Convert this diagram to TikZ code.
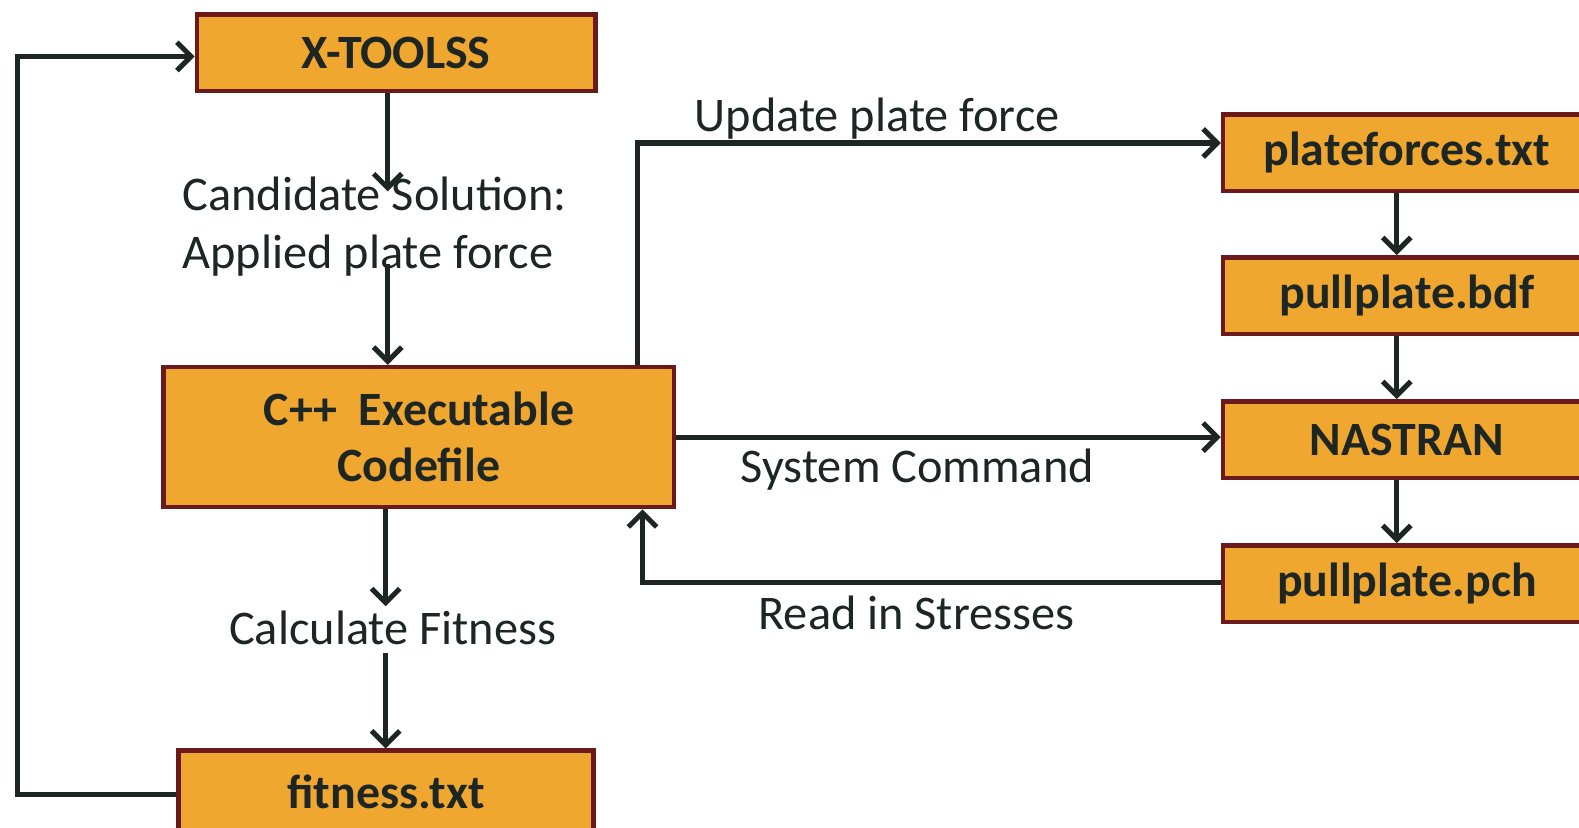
\documentclass[tikz,border=0pt]{standalone}
\usepackage{fontspec}
\setmainfont{Carlito}
\usetikzlibrary{arrows.meta}
\definecolor{boxfill}{HTML}{EFA72F}
\definecolor{boxline}{HTML}{6B1A1A}
\definecolor{ink}{HTML}{1E2624}
\begin{document}
\begin{tikzpicture}[x=1pt,y=-1pt,
  fbox/.style={draw=boxline,line width=4.5pt,fill=boxfill,text=ink,inner sep=0pt,
     font=\fontsize{47.5}{56}\selectfont\bfseries,align=center},
  lbl/.style={text=ink,inner sep=0pt,font=\fontsize{48}{57}\selectfont},
  arr/.style={draw=ink,line width=5pt,-{Straight Barb[length=14pt,width=28pt]}}]
\useasboundingbox[fill=white] (0,0) rectangle (1568,822);
% boxes
\node[fbox,minimum width=396pt,minimum height=76pt] (xt) at (393.5,52.5) {X-TOOLSS};
\node[fbox,minimum width=507pt,minimum height=139pt] (cpp) at (416,434) {C++\ \ Executable\\Codefile};
\node[fbox,minimum width=412pt,minimum height=81pt] (fit) at (383.5,786) {fitness.txt};
\node[fbox,minimum width=365pt,minimum height=76pt] (pf) at (1397,151.5) {plateforces.txt};
\node[fbox,minimum width=365pt,minimum height=76pt] (bdf) at (1397,293.5) {pullplate.bdf};
\node[fbox,minimum width=365pt,minimum height=76pt] (nas) at (1397,436.5) {NASTRAN};
\node[fbox,minimum width=365pt,minimum height=76pt] (pch) at (1397,579.5) {pullplate.pch};
% labels
\node[lbl,anchor=west,align=left] (cand) at (181,225) {Candidate Solution:\\Applied plate force};
\node[lbl] (calc) at (390,624) {Calculate Fitness};
\node[lbl] (upd) at (871,118) {Update plate force};
\node[lbl] (sys) at (911,466) {System Command};
\node[lbl] (rd) at (910,609) {Read in Stresses};
% helper coordinates
\coordinate (c1) at (385,190);
\coordinate (c2) at (385,262);
\coordinate (c3) at (383,602);
\coordinate (c4) at (383,648);
\coordinate (lx) at (17,0);
\coordinate (ly) at (0,789);
\coordinate (ty) at (0,56);
\coordinate (u) at (633,142);
\coordinate (r) at (638,578);
\coordinate (v) at (1387,0);
% connectors
\draw[arr] (c1 |- xt.south) -- (c1);
\draw[arr] (c2) -- (c2 |- cpp.north);
\draw[arr] (c3 |- cpp.south) -- (c3);
\draw[arr] (c4) -- (c4 |- fit.north);
\draw[arr] (ly -| fit.west) -- (ly -| lx) -- (lx |- ty) -- (ty -| xt.west);
\draw[arr] (u |- cpp.north) -- (u) -- (u -| pf.west);
\draw[arr] (cpp.east) -- (cpp.east -| nas.west);
\draw[arr] (r -| pch.west) -- (r) -- (r |- cpp.south);
\draw[arr] (v |- pf.south) -- (v |- bdf.north);
\draw[arr] (v |- bdf.south) -- (v |- nas.north);
\draw[arr] (v |- nas.south) -- (v |- pch.north);
\end{tikzpicture}
\end{document}
